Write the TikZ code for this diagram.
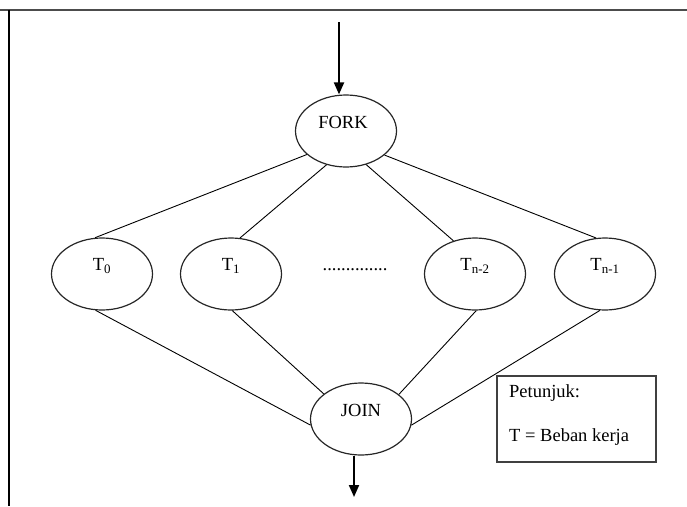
\documentclass[tikz,border=0pt]{standalone}
\usepackage{fontspec}
\setmainfont{Liberation Serif}
\usetikzlibrary{shapes.geometric,arrows.meta}
\tikzset{
  ell/.style={ellipse, draw=black!85, line width=1.2pt, minimum width=101pt, minimum height=72pt, inner sep=0pt},
  lbl/.style={inner sep=0pt, font=\fontsize{18.5}{22}\selectfont},
  conn/.style={draw=black, line width=0.9pt},
  bigarrow/.style={draw=black, line width=2pt, -{Triangle[length=12pt,width=10pt]}},
}
\begin{document}
\begin{tikzpicture}[x=1pt,y=-1pt]
\useasboundingbox (0,0) rectangle (687,506);
% frame
\draw[draw=black!70, line width=2pt] (0,9.5) -- (687,9.5);
\draw[draw=black, line width=2pt] (8.5,9.5) -- (8.5,506);
% nodes
\node[ell] (fork) at (346,131) {};
\node[ell] (t0) at (102,274) {};
\node[ell] (t1) at (231,274) {};
\node[ell] (tn2) at (475,274) {};
\node[ell] (tn1) at (605,274) {};
\node[ell] (join) at (361,419) {};
\node[lbl] (forkl) at (343,122) {FORK};
\node[lbl] (t0l) at (102,266) {T\textsubscript{0}};
\node[lbl] (t1l) at (231,266) {T\textsubscript{1}};
\node[lbl] (tn2l) at (475,266) {T\textsubscript{n-2}};
\node[lbl] (tn1l) at (605,266) {T\textsubscript{n-1}};
\node[lbl] (joinl) at (361,410) {JOIN};
\node[lbl] (dots) at (355,270) {..............};
% connectors
\draw[conn] (fork.211.6) -- (t0.101);
\draw[conn] (fork.240.4) -- (t1.76);
\draw[conn] (fork.301.4) -- (tn2.123);
\draw[conn] (fork.328.4) -- (tn1.104);
\draw[conn] (t0.260.5) -- (join.187);
\draw[conn] (t1.272) -- (join.146.7);
\draw[conn] (tn2.272) -- (join.33.3);
\draw[conn] (tn1.262) -- (join.353);
% arrows
\coordinate (topstart) at (339,22);
\coordinate (botend) at (354,497);
\draw[bigarrow] (topstart) -- (topstart |- fork.north);
\draw[bigarrow] (botend |- join.south) -- (botend);
% legend
\node[draw=black!75, fill=white, line width=1.5pt, minimum width=159pt, minimum height=86pt, inner sep=0pt] (legend) at (576.5,419) {};
\node[lbl, anchor=west] (leg1) at (509,393) {Petunjuk:};
\node[lbl, anchor=west] (leg2) at (509,437) {T = Beban kerja};
\end{tikzpicture}
\end{document}
